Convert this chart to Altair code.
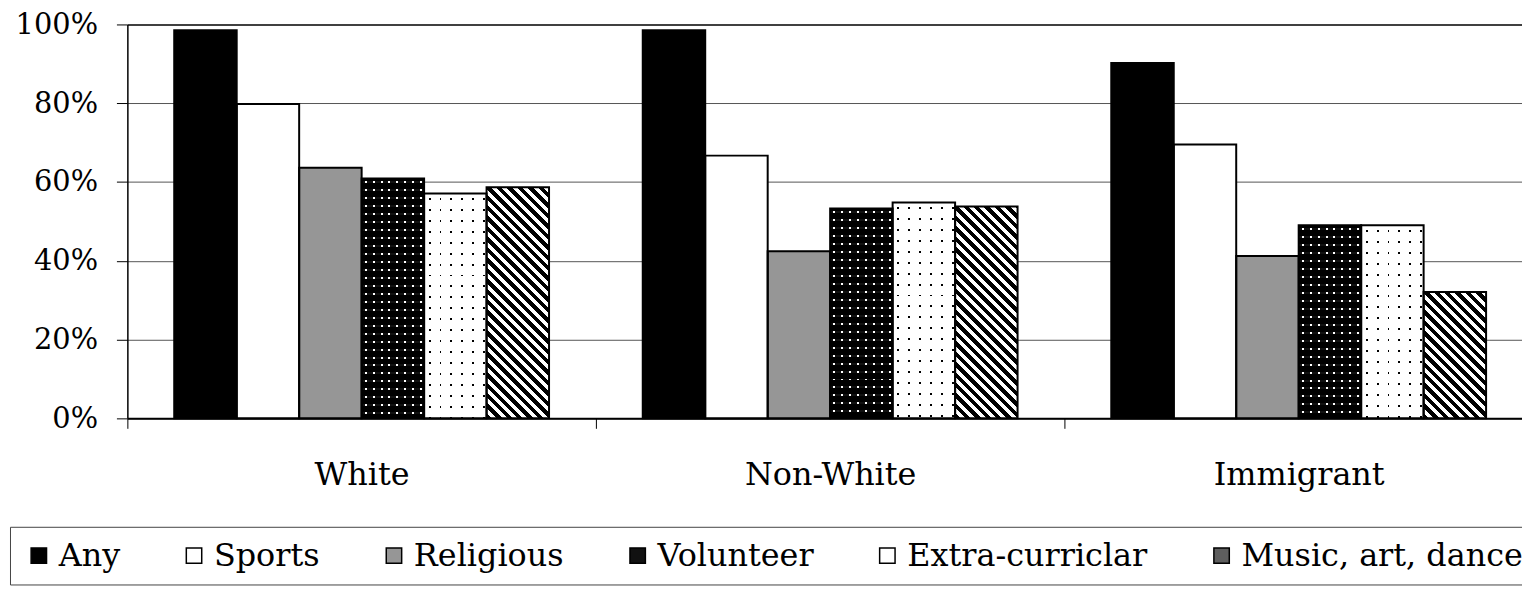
import math
import altair as alt
import pandas as pd

# ---------------- data ----------------
categories = ["White", "Non-White", "Immigrant"]
activities = ["Any", "Sports", "Religious", "Volunteer", "Extra-curriclar", "Music, art, dance"]
white_vals = [98.5, 79.8, 63.6, 60.9, 57.1, 58.7]
nonwhite_vals = [98.5, 66.7, 42.4, 53.3, 54.8, 53.8]
immigrant_vals = [90.2, 69.5, 41.2, 49.0, 49.0, 32.1]
y_ticks = [0, 20, 40, 60, 80, 100]

# ---------------- styles ----------------
fill_colors = ["#000000", "#ffffff", "#969696", "#111111", "#ffffff", "#5e5e5e"]
FONT = "DejaVu Serif"
PLOT_H = 396
STEP = 471
X_RANGE = STEP * len(categories)
PAD_OUT = 0.75
BAR_W = STEP / (len(activities) + 2 * PAD_OUT)
CLEAR_W = "rgba(255,255,255,0)"
CLEAR_K = "rgba(0,0,0,0)"

rows = []
for cat, vals in zip(categories, [white_vals, nonwhite_vals, immigrant_vals]):
    for act, v in zip(activities, vals):
        rows.append({"group": cat, "activity": act, "value": v})
df = pd.DataFrame(rows)

x_enc = alt.X(
    "group:N", sort=categories, title=None,
    scale=alt.Scale(domain=categories, range=[0, X_RANGE], paddingInner=0, paddingOuter=0),
    axis=alt.Axis(
        labelAngle=0, labelFont=FONT, labelFontSize=32, labelColor="black",
        tickBand="extent", tickSize=10, tickColor="black", tickWidth=1,
        domainColor="black", domainWidth=2, labelPadding=31, grid=False,
    ),
)
xo_enc = alt.XOffset(
    "activity:N", sort=activities,
    scale=alt.Scale(domain=activities, paddingInner=0, paddingOuter=PAD_OUT),
)
y_enc = alt.Y(
    "value:Q", title=None,
    scale=alt.Scale(domain=[0, 100], nice=False),
    axis=alt.Axis(
        values=y_ticks, labelExpr="datum.value + '%'", labelFont=FONT,
        labelFontSize=29, labelColor="black", labelPadding=19,
        tickSize=11, tickColor="black", tickWidth=1,
        domainColor="black", domainWidth=1.5,
        grid=True,
        gridColor={"condition": {"test": "datum.value === 100", "value": "black"}, "value": "#555555"},
        gridWidth={"condition": {"test": "datum.value === 100", "value": 1.6}, "value": 1},
    ),
)


def hard_stops(n, segments):
    stops = []
    k = 0
    while k < n:
        for a, b, c in segments:
            o1 = min(1.0, (k + a) / n)
            o2 = min(1.0, (k + b) / n)
            stops.append({"offset": round(o1, 5), "color": c})
            stops.append({"offset": round(o2, 5), "color": c})
        k += 1
    return stops


def grad(x1, y1, x2, y2, stops):
    return {"gradient": "linear", "x1": x1, "y1": y1, "x2": x2, "y2": y2, "stops": stops}


def bar_layer(fill, filt):
    return (
        alt.Chart(df)
        .transform_filter(filt)
        .mark_bar(fill=fill, strokeWidth=0)
        .encode(x=x_enc, xOffset=xo_enc, y=y_enc)
    )


base = (
    alt.Chart(df)
    .mark_bar(strokeWidth=0)
    .encode(
        x=x_enc, xOffset=xo_enc, y=y_enc,
        color=alt.Color(
            "activity:N", sort=activities,
            scale=alt.Scale(domain=activities, range=fill_colors),
            legend=alt.Legend(
                title=None, orient="none", legendX=-118, legendY=505,
                direction="horizontal", columns=6, columnPadding=58,
                symbolType="square", symbolSize=240, symbolStrokeColor="black",
                symbolStrokeWidth=1.5, labelFont=FONT, labelFontSize=32,
                labelColor="black", labelLimit=500, labelOffset=4,
                padding=13, strokeColor="#444444", fillColor="white",
            ),
        ),
    )
)

layers = [base]

# Volunteer: white dots on black
VP = 8.0
layers.append(bar_layer(
    grad(0, 0, 1, 0, hard_stops(BAR_W / VP, [(0, 0.375, CLEAR_W), (0.375, 0.625, "white"), (0.625, 1, CLEAR_W)])),
    "datum.activity === 'Volunteer'",
))
# Extra-curricular: black vertical dot columns
EP = 11.0
layers.append(bar_layer(
    grad(0, 0, 1, 0, hard_stops(BAR_W / EP, [(0, 0.41, CLEAR_K), (0.41, 0.59, "black"), (0.59, 1, CLEAR_K)])),
    "datum.activity === 'Extra-curriclar'",
))

for cat, vals in zip(categories, [white_vals, nonwhite_vals, immigrant_vals]):
    for act, v in zip(activities, vals):
        h = v / 100.0 * PLOT_H
        filt = f"datum.group === '{cat}' && datum.activity === '{act}'"
        if act == "Volunteer":
            layers.append(bar_layer(
                grad(0, 0, 0, 1, hard_stops(h / VP, [(0, 0.375, "black"), (0.375, 0.625, CLEAR_K), (0.625, 1, "black")])),
                filt,
            ))
        elif act == "Extra-curriclar":
            layers.append(bar_layer(
                grad(0, 0, 0, 1, hard_stops(h / EP, [(0, 0.41, "white"), (0.41, 0.59, CLEAR_W), (0.59, 1, "white")])),
                filt,
            ))
        elif act == "Music, art, dance":
            w = BAR_W
            s = (w + h) / (w * w + h * h)
            n = (w + h) / 10.5
            layers.append(bar_layer(
                grad(0, 1, round(w * s, 6), round(1 - h * s, 6),
                     hard_stops(n, [(0, 0.52, "black"), (0.52, 1, "white")])),
                filt,
            ))

outline = (
    alt.Chart(df)
    .mark_bar(fill="white", fillOpacity=0, stroke="black", strokeWidth=2)
    .encode(x=x_enc, xOffset=xo_enc, y=y_enc)
)
layers.append(outline)

chart = (
    alt.layer(*layers)
    .properties(
        width=1402, height=PLOT_H,
        padding={"left": 120, "top": 15, "right": 0, "bottom": 169},
        autosize=alt.AutoSizeParams(type="none"),
        background="white",
    )
    .configure_view(stroke=None)
)

chart.save("out.html", embed_options={"renderer": "svg", "actions": False})
